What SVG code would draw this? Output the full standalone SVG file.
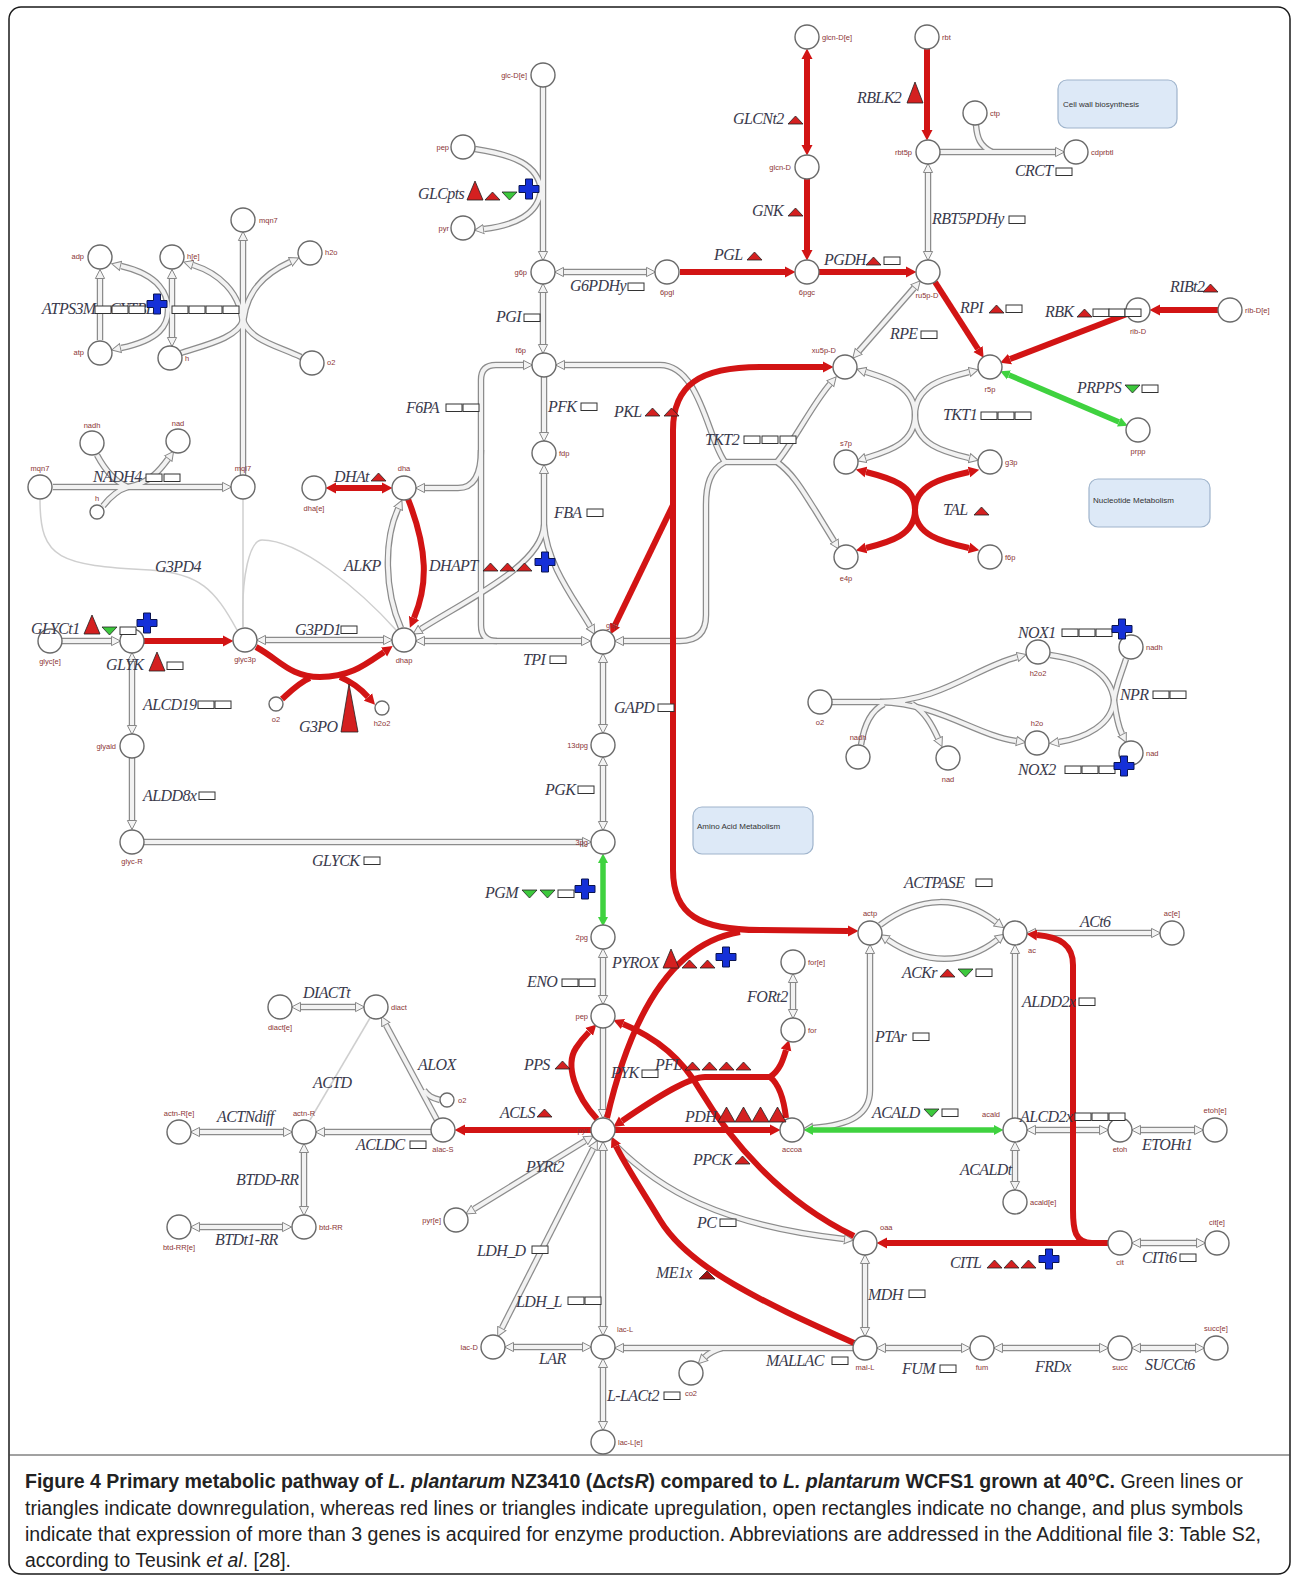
<svg xmlns="http://www.w3.org/2000/svg" width="1293" height="1576" viewBox="0 0 1293 1576">
<style>
.n{fill:#fff;stroke:#6a6a6a;stroke-width:1.4}
.ml{font-family:"Liberation Sans",Arial,sans-serif;font-size:7.5px;fill:#8b3535}
.rl{font-family:"Liberation Serif","Times New Roman",serif;font-style:italic;font-size:16px;letter-spacing:-0.6px;fill:#3a3a4c}
.to{fill:none;stroke:#8c8c8c;stroke-width:6.5}
.ti{fill:none;stroke:#f2f2f2;stroke-width:4}
.e{marker-end:url(#ta)}
.b{marker-start:url(#ta);marker-end:url(#ta)}
.rd{fill:none;stroke:#d21414;stroke-width:6;stroke-linejoin:round}
.re{marker-end:url(#ra)}
.rb{marker-start:url(#ra);marker-end:url(#ra)}
.gr{fill:none;stroke:#3fd23f;stroke-width:5.5}
.gb{marker-start:url(#ga);marker-end:url(#ga)}
.thin{fill:none;stroke:#cfcfcf;stroke-width:1.5}
.grp{fill:#dde9f7;stroke:#9fb4cc;stroke-width:1.2}
.gt{font-family:"Liberation Sans",Arial,sans-serif;font-size:8px;fill:#333}
.cap{font-family:"Liberation Sans Narrow","Liberation Sans",Arial,sans-serif;font-size:19.5px;fill:#222}
</style>
<defs>
<marker id="ta" markerUnits="userSpaceOnUse" markerWidth="11" markerHeight="12" viewBox="0 -6 11 12" refX="0" refY="0" orient="auto-start-reverse"><path d="M0.5,-4.6 L9.5,0 L0.5,4.6 Z" fill="#f3f3f3" stroke="#888" stroke-width="1"/></marker>
<marker id="ra" markerUnits="userSpaceOnUse" markerWidth="12" markerHeight="12" viewBox="0 -6 12 12" refX="0" refY="0" orient="auto-start-reverse"><path d="M0,-5.5 L10.5,0 L0,5.5 Z" fill="#d21414"/></marker>
<marker id="ga" markerUnits="userSpaceOnUse" markerWidth="12" markerHeight="12" viewBox="0 -6 12 12" refX="0" refY="0" orient="auto-start-reverse"><path d="M0,-5 L9.5,0 L0,5 Z" fill="#3fd23f"/></marker>
<polygon id="tu" points="0,0 7.5,-8 15,0" fill="#d42020" stroke="#222" stroke-width="0.8"/>
<polygon id="tM" points="0,0 8.5,-15 17,0" fill="#d42020" stroke="#222" stroke-width="0.8"/>
<polygon id="tU" points="0,0 8,-19 16,0" fill="#d42020" stroke="#222" stroke-width="0.8"/>
<polygon id="td" points="0,-8 15,-8 7.5,0" fill="#3cc83c" stroke="#222" stroke-width="0.8"/>
<rect id="bx" x="0" y="-8" width="16" height="7.5" fill="#fff" stroke="#333" stroke-width="1"/>
<path id="pl" d="M-3.5,-10h7v6.5h6.5v7h-6.5v6.5h-7v-6.5h-6.5v-7h6.5z" fill="#1530d8" stroke="#0a1450" stroke-width="1"/>
<path id="t1" d="M100,340 L100,279"/>
<path id="t2" d="M172,279 L172,337"/>
<path id="t3" d="M243,475 L243,241"/>
<path id="t4" d="M243,330 C243,290 268,272 290,262"/>
<path id="t5" d="M243,330 C243,290 215,272 193,265"/>
<path id="t6" d="M301,357 C275,345 250,340 243,320"/>
<path id="t7" d="M181,353 C205,345 238,338 243,320"/>
<path id="t8" d="M121,266 C160,275 168,295 168,310 C168,325 160,340 121,348"/>
<path id="t9" d="M53,487 L222,487"/>
<path id="t10" d="M97,455 C105,470 115,482 128,487"/>
<path id="t11" d="M103,506 C110,497 118,490 128,487"/>
<path id="t12" d="M128,487 C150,483 160,470 168,459"/>
<path id="t13" d="M481,455 L481,380 Q481,365 496,365 L523,365"/>
<path id="t14" d="M481,455 L481,625 Q481,641 497,641"/>
<path id="t15" d="M481,450 Q481,488 458,488 L425,488"/>
<path id="t16" d="M543,293 L543,344"/>
<path id="t17" d="M543,87 L543,251"/>
<path id="t18" d="M475,149 C515,155 538,165 541,190"/>
<path id="t19" d="M541,190 C538,215 515,225 484,229"/>
<path id="t20" d="M564,272 L646,272"/>
<path id="t21" d="M544,377 L544,432"/>
<path id="t22" d="M544,525 L544,474"/>
<path id="t23" d="M544,525 C542,565 470,598 421,629"/>
<path id="t24" d="M544,525 C547,565 575,600 590,626"/>
<path id="t25" d="M425,641 L581,641"/>
<path id="t26" d="M266,640 L383,640"/>
<path id="t27" d="M62,641 L111,641"/>
<path id="t28" d="M132,662 L132,725"/>
<path id="t29" d="M132,758 L132,820"/>
<path id="t30" d="M144,842 L582,842"/>
<path id="t31" d="M401,628 C384,590 384,540 398,509"/>
<path id="t32" d="M603,663 L603,724"/>
<path id="t33" d="M603,766 L603,821"/>
<path id="t35" d="M603,958 L603,995"/>
<path id="t36" d="M603,1028 L603,1109"/>
<path id="t37" d="M585,1141 L474,1209"/>
<path id="t38" d="M593,1149 L502,1328"/>
<path id="t39" d="M603,1151 L603,1326"/>
<path id="t40" d="M615,1145 C660,1190 720,1225 844,1239"/>
<path id="t41" d="M865,1264 L865,1327"/>
<path id="t42" d="M853,1348 L624,1348"/>
<path id="t43" d="M722,1348 C715,1350 709,1353 705,1357"/>
<path id="t44" d="M514,1347 L582,1347"/>
<path id="t45" d="M603,1368 L603,1421"/>
<path id="t46" d="M886,1348 L961,1348"/>
<path id="t47" d="M1003,1348 L1099,1348"/>
<path id="t48" d="M1141,1348 L1195,1348"/>
<path id="t49" d="M1141,1243 L1196,1243"/>
<path id="t50" d="M880,925 C920,895 960,895 996,922"/>
<path id="t51" d="M888,940 C925,965 965,965 997,940"/>
<path id="t52" d="M1036,933 L1151,933"/>
<path id="t53" d="M813,1128 C850,1125 870,1115 870,1090 L870,954"/>
<path id="t54" d="M1015,1118 L1015,954"/>
<path id="t55" d="M1036,1130 L1099,1130"/>
<path id="t56" d="M1141,1130 L1194,1130"/>
<path id="t57" d="M1015,1151 L1015,1181"/>
<path id="t58" d="M793,983 L793,1009"/>
<path id="t59" d="M301,1007 L355,1007"/>
<path id="t60" d="M437,1120 L386,1025"/>
<path id="t61" d="M440,1100 C432,1098 428,1096 424,1090"/>
<path id="t62" d="M431,1132 L325,1132"/>
<path id="t63" d="M200,1132 L283,1132"/>
<path id="t64" d="M304,1153 L304,1206"/>
<path id="t65" d="M200,1227 L282,1227"/>
<path id="t66" d="M940,152 L1055,152"/>
<path id="t67" d="M976,125 C977,138 980,146 992,152"/>
<path id="t68" d="M928,173 L928,251"/>
<path id="t69" d="M914,288 L859,351"/>
<path id="t70" d="M915,415 C915,385 885,378 866,372"/>
<path id="t71" d="M915,415 C915,385 945,378 969,372"/>
<path id="t72" d="M915,415 C915,445 885,452 866,458"/>
<path id="t73" d="M915,415 C915,445 945,452 969,458"/>
<path id="t74" d="M725,462 C708,440 700,365 660,365 L565,365"/>
<path id="t75" d="M777,462 C795,440 812,405 830,384"/>
<path id="t76" d="M725,462 L777,462"/>
<path id="t77" d="M725,462 C710,470 706,485 706,505 L706,615 Q706,641 680,641 L624,641"/>
<path id="t78" d="M777,462 C795,475 805,495 815,510 L834,541"/>
<path id="t79" d="M832,702 L905,702"/>
<path id="t80" d="M880,702 C940,702 975,668 1017,657"/>
<path id="t81" d="M880,702 C940,704 975,735 1016,741"/>
<path id="t82" d="M861,745 C864,725 872,710 884,704"/>
<path id="t83" d="M912,704 C925,712 932,725 938,738"/>
<path id="t84" d="M1050,655 C1085,660 1110,672 1114,700"/>
<path id="t85" d="M1126,659 C1121,675 1116,685 1114,700"/>
<path id="t86" d="M1114,700 C1112,725 1085,738 1059,742"/>
<path id="t87" d="M1114,700 C1116,715 1119,728 1122,734"/>
</defs>
<rect x="0" y="0" width="1293" height="1576" fill="#fff"/>
<rect x="9" y="7" width="1281" height="1567" rx="12" fill="none" stroke="#1a1a1a" stroke-width="1.5"/>
<line x1="9" y1="1455" x2="1290" y2="1455" stroke="#444" stroke-width="1"/>

<g id="groups">
<g id="cell-wall"><rect class="grp" x="1058" y="80" width="119" height="48" rx="9"/><text class="gt" x="1063" y="107">Cell wall biosynthesis</text></g>
<g id="nucleotide"><rect class="grp" x="1089" y="479" width="121" height="48" rx="9"/><text class="gt" x="1093" y="503">Nucleotide Metabolism</text></g>
<g id="amino-acid"><rect class="grp" x="693" y="807" width="120" height="47" rx="9"/><text class="gt" x="697" y="829">Amino Acid Metabolism</text></g>
</g>

<g id="connectors">
<g class="thin">
<path d="M40,500 C40,560 60,565 150,570 C200,573 215,590 237,630"/>
<path d="M243,499 L243,627"/>
<path d="M243,627 C241,575 250,540 262,540 C300,540 360,590 396,630"/>
<path d="M370,1018 L310,1120"/>
</g>
<g class="to">
<use href="#t1" class="e"/><use href="#t2" class="b"/><use href="#t3" class="e"/><use href="#t4" class="e"/><use href="#t5" class="e"/><use href="#t6"/><use href="#t7"/><use href="#t8" class="b"/>
<use href="#t9" class="e"/><use href="#t10"/><use href="#t11"/><use href="#t12" class="e"/>
<use href="#t13" class="e"/><use href="#t14"/><use href="#t15" class="e"/><use href="#t16" class="b"/><use href="#t17" class="e"/><use href="#t18"/><use href="#t19" class="e"/><use href="#t20" class="b"/>
<use href="#t21" class="e"/><use href="#t22" class="e"/><use href="#t23" class="e"/><use href="#t24" class="e"/><use href="#t25" class="b"/><use href="#t26" class="b"/><use href="#t27" class="e"/><use href="#t28" class="b"/><use href="#t29" class="e"/><use href="#t30" class="e"/><use href="#t31" class="e"/>
<use href="#t32" class="b"/><use href="#t33" class="b"/><use href="#t35" class="b"/><use href="#t36" class="e"/><use href="#t37" class="b"/><use href="#t38" class="b"/><use href="#t39" class="b"/><use href="#t40" class="e"/>
<use href="#t41" class="b"/><use href="#t42" class="e"/><use href="#t43" class="e"/><use href="#t44" class="b"/><use href="#t45" class="b"/><use href="#t46" class="b"/><use href="#t47" class="b"/><use href="#t48" class="b"/><use href="#t49" class="b"/>
<use href="#t50" class="e"/><use href="#t51" class="b"/><use href="#t52" class="b"/><use href="#t53" class="b"/><use href="#t54" class="e"/><use href="#t55" class="b"/><use href="#t56" class="b"/><use href="#t57" class="b"/><use href="#t58" class="b"/>
<use href="#t59" class="b"/><use href="#t60" class="e"/><use href="#t61"/><use href="#t62" class="e"/><use href="#t63" class="b"/><use href="#t64" class="b"/><use href="#t65" class="b"/>
<use href="#t66" class="e"/><use href="#t67"/><use href="#t68" class="b"/><use href="#t69" class="b"/><use href="#t70" class="e"/><use href="#t71" class="e"/><use href="#t72" class="e"/><use href="#t73" class="e"/>
<use href="#t74" class="e"/><use href="#t75" class="e"/><use href="#t76"/><use href="#t77" class="e"/><use href="#t78" class="e"/>
<use href="#t79"/><use href="#t80" class="e"/><use href="#t81" class="e"/><use href="#t82"/><use href="#t83" class="e"/><use href="#t84"/><use href="#t85"/><use href="#t86" class="e"/><use href="#t87" class="e"/>
</g>
<g class="ti">
<use href="#t1"/><use href="#t2"/><use href="#t3"/><use href="#t4"/><use href="#t5"/><use href="#t6"/><use href="#t7"/><use href="#t8"/>
<use href="#t9"/><use href="#t10"/><use href="#t11"/><use href="#t12"/>
<use href="#t13"/><use href="#t14"/><use href="#t15"/><use href="#t16"/><use href="#t17"/><use href="#t18"/><use href="#t19"/><use href="#t20"/>
<use href="#t21"/><use href="#t22"/><use href="#t23"/><use href="#t24"/><use href="#t25"/><use href="#t26"/><use href="#t27"/><use href="#t28"/><use href="#t29"/><use href="#t30"/><use href="#t31"/>
<use href="#t32"/><use href="#t33"/><use href="#t35"/><use href="#t36"/><use href="#t37"/><use href="#t38"/><use href="#t39"/><use href="#t40"/>
<use href="#t41"/><use href="#t42"/><use href="#t43"/><use href="#t44"/><use href="#t45"/><use href="#t46"/><use href="#t47"/><use href="#t48"/><use href="#t49"/>
<use href="#t50"/><use href="#t51"/><use href="#t52"/><use href="#t53"/><use href="#t54"/><use href="#t55"/><use href="#t56"/><use href="#t57"/><use href="#t58"/>
<use href="#t59"/><use href="#t60"/><use href="#t61"/><use href="#t62"/><use href="#t63"/><use href="#t64"/><use href="#t65"/>
<use href="#t66"/><use href="#t67"/><use href="#t68"/><use href="#t69"/><use href="#t70"/><use href="#t71"/><use href="#t72"/><use href="#t73"/>
<use href="#t74"/><use href="#t75"/><use href="#t76"/><use href="#t77"/><use href="#t78"/>
<use href="#t79"/><use href="#t80"/><use href="#t81"/><use href="#t82"/><use href="#t83"/><use href="#t84"/><use href="#t85"/><use href="#t86"/><use href="#t87"/>
</g>
<g class="rd">
<path class="re" d="M680,272 L785,272"/>
<path class="rb" d="M807,59 L807,145"/>
<path class="re" d="M807,179 L807,250"/>
<path class="re" d="M819,272 L906,272"/>
<path class="re" d="M927,49 L927,130"/>
<path class="re" d="M1218,310 L1160,310"/>
<path class="re" d="M1127,314 L1010,359"/>
<path class="re" d="M935,282 L978,349"/>
<path class="re" d="M915,510 C915,485 890,478 866,472"/>
<path class="re" d="M915,510 C915,485 942,478 969,472"/>
<path class="re" d="M915,510 C915,535 890,542 866,548"/>
<path class="re" d="M915,510 C915,535 942,542 969,548"/>
<path class="rb" d="M336,488 L382,488"/>
<path class="re" d="M408,499 C428,550 428,585 414,618"/>
<path class="re" d="M144,641 L223,641"/>
<path class="re" d="M256,647 C280,660 290,677 320,677 C350,677 365,665 384,652"/>
<path d="M282,699 C292,690 300,682 310,678"/>
<path class="re" d="M340,677 C352,682 360,688 368,697"/>
<path class="re" d="M673,560 L673,430 C673,385 700,367 760,367 L823,367"/>
<path class="re" d="M673,520 L673,870 C673,915 700,930 760,930 L848,931"/>
<path class="re" d="M673,505 L615,625"/>
<path d="M607,1118 C625,1040 660,945 740,932"/>
<path class="re" d="M597,1119 C575,1095 565,1065 576,1048 C581,1040 585,1036 589,1032"/>
<path class="re" d="M854,1236 C780,1200 730,1140 700,1090 C680,1055 650,1035 623,1024"/>
<path class="re" d="M770,1077 L705,1077 C690,1077 660,1095 622,1121"/>
<path class="re" d="M770,1077 C780,1070 783,1060 786,1050"/>
<path d="M770,1077 C780,1085 784,1100 786,1118"/>
<path class="re" d="M615,1130 L770,1130"/>
<path class="re" d="M591,1130 L465,1130"/>
<path class="re" d="M854,1343 C770,1305 690,1270 660,1220 C645,1195 625,1165 616,1146"/>
<path class="re" d="M1108,1243 L887,1243"/>
<path class="re" d="M1092,1243 C1075,1243 1073,1230 1073,1210 L1073,965 C1073,945 1060,937 1037,935"/>
</g>
<g class="gr">
<path class="gb" d="M1009,375 L1119,422"/>
<path class="gb" d="M603,863 L603,917"/>
<path class="gb" d="M813,1130 L994,1130"/>
</g>
</g>

<g id="nodes">
<g id="n-mqn7-a"><circle class="n" cx="243" cy="220" r="12"/><text class="ml" x="259" y="223">mqn7</text></g>
<g id="n-adp"><circle class="n" cx="100" cy="257" r="12"/><text class="ml" x="84" y="259" text-anchor="end">adp</text></g>
<g id="n-h-e"><circle class="n" cx="172" cy="257" r="12"/><text class="ml" x="187" y="259">h[e]</text></g>
<g id="n-h2o-a"><circle class="n" cx="310" cy="253" r="12"/><text class="ml" x="325" y="255">h2o</text></g>
<g id="n-atp"><circle class="n" cx="100" cy="353" r="12"/><text class="ml" x="84" y="355" text-anchor="end">atp</text></g>
<g id="n-h-a"><circle class="n" cx="170" cy="358" r="12"/><text class="ml" x="185" y="361">h</text></g>
<g id="n-o2-a"><circle class="n" cx="312" cy="363" r="12"/><text class="ml" x="327" y="365">o2</text></g>
<g id="n-mqn7-b"><circle class="n" cx="40" cy="487" r="12"/><text class="ml" x="40" y="471" text-anchor="middle">mqn7</text></g>
<g id="n-mql7"><circle class="n" cx="243" cy="487" r="12"/><text class="ml" x="243" y="471" text-anchor="middle">mql7</text></g>
<g id="n-nadh-a"><circle class="n" cx="92" cy="443" r="12"/><text class="ml" x="92" y="428" text-anchor="middle">nadh</text></g>
<g id="n-nad-a"><circle class="n" cx="178" cy="441" r="12"/><text class="ml" x="178" y="426" text-anchor="middle">nad</text></g>
<g id="n-h-b"><circle class="n" cx="97" cy="512" r="7"/><text class="ml" x="97" y="501" text-anchor="middle">h</text></g>
<g id="n-dha-e"><circle class="n" cx="314" cy="488" r="12"/><text class="ml" x="314" y="511" text-anchor="middle">dha[e]</text></g>
<g id="n-dha"><circle class="n" cx="404" cy="488" r="12"/><text class="ml" x="404" y="471" text-anchor="middle">dha</text></g>
<g id="n-glyc-e"><circle class="n" cx="50" cy="641" r="12"/><text class="ml" x="50" y="664" text-anchor="middle">glyc[e]</text></g>
<g id="n-glyc"><circle class="n" cx="132" cy="641" r="12"/></g>
<g id="n-glyc3p"><circle class="n" cx="245" cy="640" r="12"/><text class="ml" x="245" y="662" text-anchor="middle">glyc3p</text></g>
<g id="n-dhap"><circle class="n" cx="404" cy="640" r="12"/><text class="ml" x="404" y="663" text-anchor="middle">dhap</text></g>
<g id="n-o2-b"><circle class="n" cx="276" cy="704" r="7"/><text class="ml" x="276" y="722" text-anchor="middle">o2</text></g>
<g id="n-h2o2-a"><circle class="n" cx="382" cy="708" r="7"/><text class="ml" x="382" y="726" text-anchor="middle">h2o2</text></g>
<g id="n-glyald"><circle class="n" cx="132" cy="746" r="12"/><text class="ml" x="116" y="749" text-anchor="end">glyald</text></g>
<g id="n-glyc-R"><circle class="n" cx="132" cy="842" r="12"/><text class="ml" x="132" y="864" text-anchor="middle">glyc-R</text></g>
<g id="n-glc-D-e"><circle class="n" cx="543" cy="75" r="12"/><text class="ml" x="527" y="78" text-anchor="end">glc-D[e]</text></g>
<g id="n-pep-a"><circle class="n" cx="463" cy="147" r="12"/><text class="ml" x="449" y="150" text-anchor="end">pep</text></g>
<g id="n-pyr-a"><circle class="n" cx="463" cy="228" r="12"/><text class="ml" x="449" y="231" text-anchor="end">pyr</text></g>
<g id="n-g6p"><circle class="n" cx="543" cy="272" r="12"/><text class="ml" x="527" y="275" text-anchor="end">g6p</text></g>
<g id="n-6pgl"><circle class="n" cx="667" cy="272" r="12"/><text class="ml" x="667" y="295" text-anchor="middle">6pgl</text></g>
<g id="n-glcn-D-e"><circle class="n" cx="807" cy="37" r="12"/><text class="ml" x="822" y="40">glcn-D[e]</text></g>
<g id="n-glcn-D"><circle class="n" cx="807" cy="167" r="12"/><text class="ml" x="791" y="170" text-anchor="end">glcn-D</text></g>
<g id="n-6pgc"><circle class="n" cx="807" cy="272" r="12"/><text class="ml" x="807" y="295" text-anchor="middle">6pgc</text></g>
<g id="n-rbt"><circle class="n" cx="927" cy="37" r="12"/><text class="ml" x="942" y="40">rbt</text></g>
<g id="n-rbt5p"><circle class="n" cx="928" cy="152" r="12"/><text class="ml" x="912" y="155" text-anchor="end">rbt5p</text></g>
<g id="n-ctp"><circle class="n" cx="975" cy="113" r="12"/><text class="ml" x="990" y="116">ctp</text></g>
<g id="n-cdprbtl"><circle class="n" cx="1076" cy="152" r="12"/><text class="ml" x="1091" y="155">cdprbtl</text></g>
<g id="n-ru5p-D"><circle class="n" cx="928" cy="272" r="12"/><text class="ml" x="927" y="298" text-anchor="middle">ru5p-D</text></g>
<g id="n-rib-D"><circle class="n" cx="1138" cy="310" r="12"/><text class="ml" x="1138" y="334" text-anchor="middle">rib-D</text></g>
<g id="n-rib-D-e"><circle class="n" cx="1230" cy="310" r="12"/><text class="ml" x="1245" y="313">rib-D[e]</text></g>
<g id="n-xu5p-D"><circle class="n" cx="845" cy="367" r="12"/><text class="ml" x="836" y="353" text-anchor="end">xu5p-D</text></g>
<g id="n-r5p"><circle class="n" cx="990" cy="367" r="12"/><text class="ml" x="990" y="392" text-anchor="middle">r5p</text></g>
<g id="n-prpp"><circle class="n" cx="1138" cy="430" r="12"/><text class="ml" x="1138" y="454" text-anchor="middle">prpp</text></g>
<g id="n-s7p"><circle class="n" cx="846" cy="462" r="12"/><text class="ml" x="846" y="446" text-anchor="middle">s7p</text></g>
<g id="n-g3p-b"><circle class="n" cx="990" cy="462" r="12"/><text class="ml" x="1005" y="465">g3p</text></g>
<g id="n-e4p"><circle class="n" cx="846" cy="557" r="12"/><text class="ml" x="846" y="581" text-anchor="middle">e4p</text></g>
<g id="n-f6p-b"><circle class="n" cx="990" cy="557" r="12"/><text class="ml" x="1005" y="560">f6p</text></g>
<g id="n-f6p"><circle class="n" cx="544" cy="365" r="12"/><text class="ml" x="526" y="353" text-anchor="end">f6p</text></g>
<g id="n-fdp"><circle class="n" cx="544" cy="453" r="12"/><text class="ml" x="559" y="456">fdp</text></g>
<g id="n-g3p"><circle class="n" cx="603" cy="642" r="12"/><text class="ml" x="606" y="628">g3p</text></g>
<g id="n-13dpg"><circle class="n" cx="603" cy="745" r="12"/><text class="ml" x="588" y="748" text-anchor="end">13dpg</text></g>
<g id="n-3pg"><circle class="n" cx="603" cy="842" r="12"/><text class="ml" x="588" y="845" text-anchor="end">3pg</text></g>
<g id="n-2pg"><circle class="n" cx="603" cy="937" r="12"/><text class="ml" x="588" y="940" text-anchor="end">2pg</text></g>
<g id="n-pep"><circle class="n" cx="603" cy="1016" r="12"/><text class="ml" x="588" y="1019" text-anchor="end">pep</text></g>
<g id="n-pyr"><circle class="n" cx="603" cy="1130" r="12"/><text class="ml" x="588" y="1133" text-anchor="end">pyr</text></g>
<g id="n-alac-S"><circle class="n" cx="443" cy="1130" r="12"/><text class="ml" x="443" y="1152" text-anchor="middle">alac-S</text></g>
<g id="n-o2-c"><circle class="n" cx="447" cy="1100" r="7"/><text class="ml" x="458" y="1103">o2</text></g>
<g id="n-accoa"><circle class="n" cx="792" cy="1130" r="12"/><text class="ml" x="792" y="1152" text-anchor="middle">accoa</text></g>
<g id="n-for-e"><circle class="n" cx="793" cy="962" r="12"/><text class="ml" x="808" y="965">for[e]</text></g>
<g id="n-for"><circle class="n" cx="793" cy="1030" r="12"/><text class="ml" x="808" y="1033">for</text></g>
<g id="n-actp"><circle class="n" cx="870" cy="933" r="12"/><text class="ml" x="870" y="916" text-anchor="middle">actp</text></g>
<g id="n-ac"><circle class="n" cx="1015" cy="933" r="12"/><text class="ml" x="1028" y="953">ac</text></g>
<g id="n-ac-e"><circle class="n" cx="1172" cy="933" r="12"/><text class="ml" x="1172" y="916" text-anchor="middle">ac[e]</text></g>
<g id="n-acald"><circle class="n" cx="1015" cy="1130" r="12"/><text class="ml" x="1000" y="1117" text-anchor="end">acald</text></g>
<g id="n-etoh"><circle class="n" cx="1120" cy="1130" r="12"/><text class="ml" x="1120" y="1152" text-anchor="middle">etoh</text></g>
<g id="n-etoh-e"><circle class="n" cx="1215" cy="1130" r="12"/><text class="ml" x="1215" y="1113" text-anchor="middle">etoh[e]</text></g>
<g id="n-acald-e"><circle class="n" cx="1015" cy="1202" r="12"/><text class="ml" x="1030" y="1205">acald[e]</text></g>
<g id="n-oaa"><circle class="n" cx="865" cy="1243" r="12"/><text class="ml" x="880" y="1230">oaa</text></g>
<g id="n-cit"><circle class="n" cx="1120" cy="1243" r="12"/><text class="ml" x="1120" y="1265" text-anchor="middle">cit</text></g>
<g id="n-cit-e"><circle class="n" cx="1217" cy="1243" r="12"/><text class="ml" x="1217" y="1225" text-anchor="middle">cit[e]</text></g>
<g id="n-mal-L"><circle class="n" cx="865" cy="1348" r="12"/><text class="ml" x="865" y="1370" text-anchor="middle">mal-L</text></g>
<g id="n-fum"><circle class="n" cx="982" cy="1348" r="12"/><text class="ml" x="982" y="1370" text-anchor="middle">fum</text></g>
<g id="n-succ"><circle class="n" cx="1120" cy="1348" r="12"/><text class="ml" x="1120" y="1370" text-anchor="middle">succ</text></g>
<g id="n-succ-e"><circle class="n" cx="1216" cy="1348" r="12"/><text class="ml" x="1216" y="1331" text-anchor="middle">succ[e]</text></g>
<g id="n-pyr-e"><circle class="n" cx="456" cy="1220" r="12"/><text class="ml" x="441" y="1223" text-anchor="end">pyr[e]</text></g>
<g id="n-lac-D"><circle class="n" cx="493" cy="1347" r="12"/><text class="ml" x="478" y="1350" text-anchor="end">lac-D</text></g>
<g id="n-lac-L"><circle class="n" cx="603" cy="1347" r="12"/><text class="ml" x="617" y="1332">lac-L</text></g>
<g id="n-co2"><circle class="n" cx="691" cy="1373" r="12"/><text class="ml" x="691" y="1396" text-anchor="middle">co2</text></g>
<g id="n-lac-L-e"><circle class="n" cx="603" cy="1442" r="12"/><text class="ml" x="618" y="1445">lac-L[e]</text></g>
<g id="n-diact-e"><circle class="n" cx="280" cy="1007" r="12"/><text class="ml" x="280" y="1030" text-anchor="middle">diact[e]</text></g>
<g id="n-diact"><circle class="n" cx="376" cy="1007" r="12"/><text class="ml" x="391" y="1010">diact</text></g>
<g id="n-actn-R-e"><circle class="n" cx="179" cy="1132" r="12"/><text class="ml" x="179" y="1116" text-anchor="middle">actn-R[e]</text></g>
<g id="n-actn-R"><circle class="n" cx="304" cy="1132" r="12"/><text class="ml" x="304" y="1116" text-anchor="middle">actn-R</text></g>
<g id="n-btd-RR"><circle class="n" cx="304" cy="1227" r="12"/><text class="ml" x="319" y="1230">btd-RR</text></g>
<g id="n-btd-RR-e"><circle class="n" cx="179" cy="1227" r="12"/><text class="ml" x="179" y="1250" text-anchor="middle">btd-RR[e]</text></g>
<g id="n-o2-d"><circle class="n" cx="820" cy="702" r="12"/><text class="ml" x="820" y="725" text-anchor="middle">o2</text></g>
<g id="n-h2o2-b"><circle class="n" cx="1038" cy="652" r="12"/><text class="ml" x="1038" y="676" text-anchor="middle">h2o2</text></g>
<g id="n-nadh-b"><circle class="n" cx="1131" cy="647" r="12"/><text class="ml" x="1146" y="650">nadh</text></g>
<g id="n-h2o-b"><circle class="n" cx="1037" cy="743" r="12"/><text class="ml" x="1037" y="726" text-anchor="middle">h2o</text></g>
<g id="n-nadh-c"><circle class="n" cx="858" cy="757" r="12"/><text class="ml" x="858" y="740" text-anchor="middle">nadh</text></g>
<g id="n-nad-b"><circle class="n" cx="948" cy="758" r="12"/><text class="ml" x="948" y="782" text-anchor="middle">nad</text></g>
<g id="n-nad-c"><circle class="n" cx="1131" cy="753" r="12"/><text class="ml" x="1146" y="756">nad</text></g>
</g>

<g id="reactions">
<g id="r-ATPS3M"><text class="rl" x="42" y="314">ATPS3M</text><text class="rl" x="110" y="314">CYTBD</text><use href="#bx" x="95" y="314"/><use href="#bx" x="112" y="314"/><use href="#bx" x="129" y="314"/><use href="#pl" x="157" y="304"/><use href="#bx" x="172" y="314"/><use href="#bx" x="189" y="314"/><use href="#bx" x="206" y="314"/><use href="#bx" x="223" y="314"/></g>
<g id="r-NADH4"><text class="rl" x="93" y="482">NADH4</text><use href="#bx" x="146" y="482"/><use href="#bx" x="164" y="482"/></g>
<g id="r-DHAt"><text class="rl" x="334" y="482">DHAt</text><use href="#tu" x="371" y="481"/></g>
<g id="r-G3PD4"><text class="rl" x="155" y="572">G3PD4</text></g>
<g id="r-ALKP"><text class="rl" x="344" y="571">ALKP</text></g>
<g id="r-DHAPT"><text class="rl" x="429" y="571">DHAPT</text><use href="#tu" x="483" y="571"/><use href="#tu" x="500" y="571"/><use href="#tu" x="517" y="571"/><use href="#pl" x="545" y="562"/></g>
<g id="r-GLYCt1"><text class="rl" x="31" y="634">GLYCt1</text><use href="#tU" x="84" y="634"/><use href="#td" x="102" y="635"/><use href="#bx" x="120" y="635"/><use href="#pl" x="147" y="623"/></g>
<g id="r-GLYK"><text class="rl" x="106" y="670">GLYK</text><use href="#tU" x="149" y="671"/><use href="#bx" x="167" y="670"/></g>
<g id="r-G3PD1"><text class="rl" x="295" y="635">G3PD1</text><use href="#bx" x="341" y="634"/></g>
<g id="r-ALCD19"><text class="rl" x="143" y="710">ALCD19</text><use href="#bx" x="198" y="709"/><use href="#bx" x="215" y="709"/></g>
<g id="r-G3PO"><text class="rl" x="299" y="732">G3PO</text><polygon points="341,732 349,684 358,732" fill="#d42020" stroke="#222" stroke-width="0.8"/></g>
<g id="r-ALDD8x"><text class="rl" x="143" y="801">ALDD8x</text><use href="#bx" x="199" y="800"/></g>
<g id="r-GLYCK"><text class="rl" x="312" y="866">GLYCK</text><use href="#bx" x="364" y="865"/></g>
<g id="r-GLCpts"><text class="rl" x="418" y="199">GLCpts</text><use href="#tU" x="467" y="200"/><use href="#tu" x="485" y="200"/><use href="#td" x="502" y="200"/><use href="#pl" x="529" y="189"/></g>
<g id="r-G6PDHy"><text class="rl" x="570" y="291">G6PDHy</text><use href="#bx" x="628" y="291"/></g>
<g id="r-PGI"><text class="rl" x="496" y="322">PGI</text><use href="#bx" x="524" y="322"/></g>
<g id="r-PGL"><text class="rl" x="714" y="260">PGL</text><use href="#tu" x="747" y="260"/></g>
<g id="r-GLCNt2"><text class="rl" x="733" y="124">GLCNt2</text><use href="#tu" x="788" y="124"/></g>
<g id="r-GNK"><text class="rl" x="752" y="216">GNK</text><use href="#tu" x="788" y="216"/></g>
<g id="r-PGDH"><text class="rl" x="824" y="265">PGDH</text><use href="#tu" x="866" y="265"/><use href="#bx" x="884" y="265"/></g>
<g id="r-RBLK2"><text class="rl" x="857" y="103">RBLK2</text><polygon points="907,103 915,82 923,103" fill="#d42020" stroke="#222" stroke-width="0.8"/></g>
<g id="r-CRCT"><text class="rl" x="1015" y="176">CRCT</text><use href="#bx" x="1056" y="176"/></g>
<g id="r-RBT5PDHy"><text class="rl" x="932" y="224">RBT5PDHy</text><use href="#bx" x="1009" y="224"/></g>
<g id="r-RPI"><text class="rl" x="960" y="313">RPI</text><use href="#tu" x="989" y="313"/><use href="#bx" x="1006" y="313"/></g>
<g id="r-RBK"><text class="rl" x="1045" y="317">RBK</text><use href="#tu" x="1077" y="317"/><use href="#bx" x="1093" y="317"/><use href="#bx" x="1109" y="317"/><use href="#bx" x="1125" y="317"/></g>
<g id="r-RIBt2"><text class="rl" x="1170" y="292">RIBt2</text><use href="#tu" x="1203" y="292"/></g>
<g id="r-RPE"><text class="rl" x="890" y="339">RPE</text><use href="#bx" x="921" y="339"/></g>
<g id="r-PRPPS"><text class="rl" x="1077" y="393">PRPPS</text><use href="#td" x="1125" y="393"/><use href="#bx" x="1142" y="393"/></g>
<g id="r-TKT1"><text class="rl" x="943" y="420">TKT1</text><use href="#bx" x="981" y="420"/><use href="#bx" x="998" y="420"/><use href="#bx" x="1015" y="420"/></g>
<g id="r-TAL"><text class="rl" x="943" y="515">TAL</text><use href="#tu" x="974" y="515"/></g>
<g id="r-F6PA"><text class="rl" x="406" y="413">F6PA</text><use href="#bx" x="446" y="412"/><use href="#bx" x="463" y="412"/></g>
<g id="r-PFK"><text class="rl" x="548" y="412">PFK</text><use href="#bx" x="581" y="411"/></g>
<g id="r-PKL"><text class="rl" x="614" y="417">PKL</text><use href="#tu" x="645" y="416"/><use href="#tu" x="664" y="416"/></g>
<g id="r-TKT2"><text class="rl" x="705" y="445">TKT2</text><use href="#bx" x="744" y="444"/><use href="#bx" x="762" y="444"/><use href="#bx" x="780" y="444"/></g>
<g id="r-FBA"><text class="rl" x="554" y="518">FBA</text><use href="#bx" x="587" y="517"/></g>
<g id="r-TPI"><text class="rl" x="523" y="665">TPI</text><use href="#bx" x="550" y="664"/></g>
<g id="r-GAPD"><text class="rl" x="614" y="713">GAPD</text><use href="#bx" x="658" y="712"/></g>
<g id="r-PGK"><text class="rl" x="545" y="795">PGK</text><use href="#bx" x="578" y="794"/></g>
<g id="r-PGM"><text class="rl" x="485" y="898">PGM</text><use href="#td" x="522" y="898"/><use href="#td" x="540" y="898"/><use href="#bx" x="558" y="898"/><use href="#pl" x="585" y="889"/></g>
<g id="r-PYROX"><text class="rl" x="612" y="968">PYROX</text><use href="#tU" x="663" y="968"/><use href="#tu" x="682" y="968"/><use href="#tu" x="700" y="968"/><use href="#pl" x="726" y="957"/></g>
<g id="r-ENO"><text class="rl" x="527" y="987">ENO</text><use href="#bx" x="562" y="987"/><use href="#bx" x="579" y="987"/></g>
<g id="r-FORt2"><text class="rl" x="747" y="1002">FORt2</text></g>
<g id="r-PPS"><text class="rl" x="524" y="1070">PPS</text><use href="#tu" x="555" y="1069"/></g>
<g id="r-PYK"><text class="rl" x="611" y="1078">PYK</text><use href="#bx" x="642" y="1078"/></g>
<g id="r-PFL"><text class="rl" x="655" y="1070">PFL</text><use href="#tu" x="685" y="1070"/><use href="#tu" x="702" y="1070"/><use href="#tu" x="719" y="1070"/><use href="#tu" x="736" y="1070"/></g>
<g id="r-ACLS"><text class="rl" x="500" y="1118">ACLS</text><use href="#tu" x="537" y="1117"/></g>
<g id="r-PDH"><text class="rl" x="685" y="1122">PDH</text><use href="#tM" x="718" y="1122"/><use href="#tM" x="735" y="1122"/><use href="#tM" x="752" y="1122"/><use href="#tM" x="769" y="1122"/></g>
<g id="r-PPCK"><text class="rl" x="693" y="1165">PPCK</text><use href="#tu" x="735" y="1164"/></g>
<g id="r-PYRt2"><text class="rl" x="526" y="1172">PYRt2</text></g>
<g id="r-PC"><text class="rl" x="697" y="1228">PC</text><use href="#bx" x="720" y="1227"/></g>
<g id="r-LDH_D"><text class="rl" x="477" y="1256">LDH_D</text><use href="#bx" x="532" y="1254"/></g>
<g id="r-LDH_L"><text class="rl" x="516" y="1307">LDH_L</text><use href="#bx" x="568" y="1305"/><use href="#bx" x="585" y="1305"/></g>
<g id="r-ME1x"><text class="rl" x="656" y="1278">ME1x</text><polygon points="699,1279 707,1271 715,1279" fill="#a01010" stroke="#222" stroke-width="0.8"/></g>
<g id="r-LAR"><text class="rl" x="539" y="1364">LAR</text></g>
<g id="r-MALLAC"><text class="rl" x="766" y="1366">MALLAC</text><use href="#bx" x="832" y="1365"/></g>
<g id="r-L-LACt2"><text class="rl" x="607" y="1401">L-LACt2</text><use href="#bx" x="664" y="1400"/></g>
<g id="r-FUM"><text class="rl" x="902" y="1374">FUM</text><use href="#bx" x="940" y="1373"/></g>
<g id="r-FRDx"><text class="rl" x="1035" y="1372">FRDx</text></g>
<g id="r-SUCCt6"><text class="rl" x="1145" y="1370">SUCCt6</text></g>
<g id="r-MDH"><text class="rl" x="868" y="1300">MDH</text><use href="#bx" x="909" y="1298"/></g>
<g id="r-CITL"><text class="rl" x="950" y="1268">CITL</text><use href="#tu" x="987" y="1268"/><use href="#tu" x="1004" y="1268"/><use href="#tu" x="1021" y="1268"/><use href="#pl" x="1049" y="1259"/></g>
<g id="r-CITt6"><text class="rl" x="1142" y="1263">CITt6</text><use href="#bx" x="1180" y="1262"/></g>
<g id="r-ACTPASE"><text class="rl" x="904" y="888">ACTPASE</text><use href="#bx" x="976" y="887"/></g>
<g id="r-ACt6"><text class="rl" x="1080" y="927">ACt6</text></g>
<g id="r-ACKr"><text class="rl" x="902" y="978">ACKr</text><use href="#tu" x="940" y="977"/><use href="#td" x="958" y="977"/><use href="#bx" x="976" y="977"/></g>
<g id="r-ALDD2x"><text class="rl" x="1022" y="1007">ALDD2x</text><use href="#bx" x="1079" y="1006"/></g>
<g id="r-PTAr"><text class="rl" x="875" y="1042">PTAr</text><use href="#bx" x="913" y="1041"/></g>
<g id="r-ACALD"><text class="rl" x="872" y="1118">ACALD</text><use href="#td" x="924" y="1117"/><use href="#bx" x="942" y="1117"/></g>
<g id="r-ALCD2x"><text class="rl" x="1020" y="1122">ALCD2x</text><use href="#bx" x="1075" y="1121"/><use href="#bx" x="1092" y="1121"/><use href="#bx" x="1109" y="1121"/></g>
<g id="r-ETOHt1"><text class="rl" x="1142" y="1150">ETOHt1</text></g>
<g id="r-ACALDt"><text class="rl" x="960" y="1175">ACALDt</text></g>
<g id="r-DIACTt"><text class="rl" x="303" y="998">DIACTt</text></g>
<g id="r-ALOX"><text class="rl" x="418" y="1070">ALOX</text></g>
<g id="r-ACTD"><text class="rl" x="313" y="1088">ACTD</text></g>
<g id="r-ACTNdiff"><text class="rl" x="217" y="1122">ACTNdiff</text></g>
<g id="r-ACLDC"><text class="rl" x="356" y="1150">ACLDC</text><use href="#bx" x="410" y="1149"/></g>
<g id="r-BTDD-RR"><text class="rl" x="236" y="1185">BTDD-RR</text></g>
<g id="r-BTDt1-RR"><text class="rl" x="215" y="1245">BTDt1-RR</text></g>
<g id="r-NOX1"><text class="rl" x="1018" y="638">NOX1</text><use href="#bx" x="1062" y="637"/><use href="#bx" x="1079" y="637"/><use href="#bx" x="1096" y="637"/><use href="#pl" x="1122" y="629"/></g>
<g id="r-NPR"><text class="rl" x="1120" y="700">NPR</text><use href="#bx" x="1153" y="699"/><use href="#bx" x="1170" y="699"/></g>
<g id="r-NOX2"><text class="rl" x="1018" y="775">NOX2</text><use href="#bx" x="1065" y="774"/><use href="#bx" x="1082" y="774"/><use href="#bx" x="1099" y="774"/><use href="#pl" x="1124" y="766"/></g>
</g>

<g id="caption">
<text class="cap" x="25" y="1488" textLength="1218" lengthAdjust="spacingAndGlyphs"><tspan font-weight="bold">Figure 4 Primary metabolic pathway of <tspan font-style="italic">L. plantarum</tspan> NZ3410 (Δ<tspan font-style="italic">ctsR</tspan>) compared to <tspan font-style="italic">L. plantarum</tspan> WCFS1 grown at 40°C.</tspan> Green lines or</text>
<text class="cap" x="25" y="1515" textLength="1218" lengthAdjust="spacingAndGlyphs">triangles indicate downregulation, whereas red lines or triangles indicate upregulation, open rectangles indicate no change, and plus symbols</text>
<text class="cap" x="25" y="1541" textLength="1236" lengthAdjust="spacingAndGlyphs">indicate that expression of more than 3 genes is acquired for enzyme production. Abbreviations are addressed in the Additional file 3: Table S2,</text>
<text class="cap" x="25" y="1567" textLength="266" lengthAdjust="spacingAndGlyphs">according to Teusink <tspan font-style="italic">et al</tspan>. [28].</text>
</g>
</svg>
